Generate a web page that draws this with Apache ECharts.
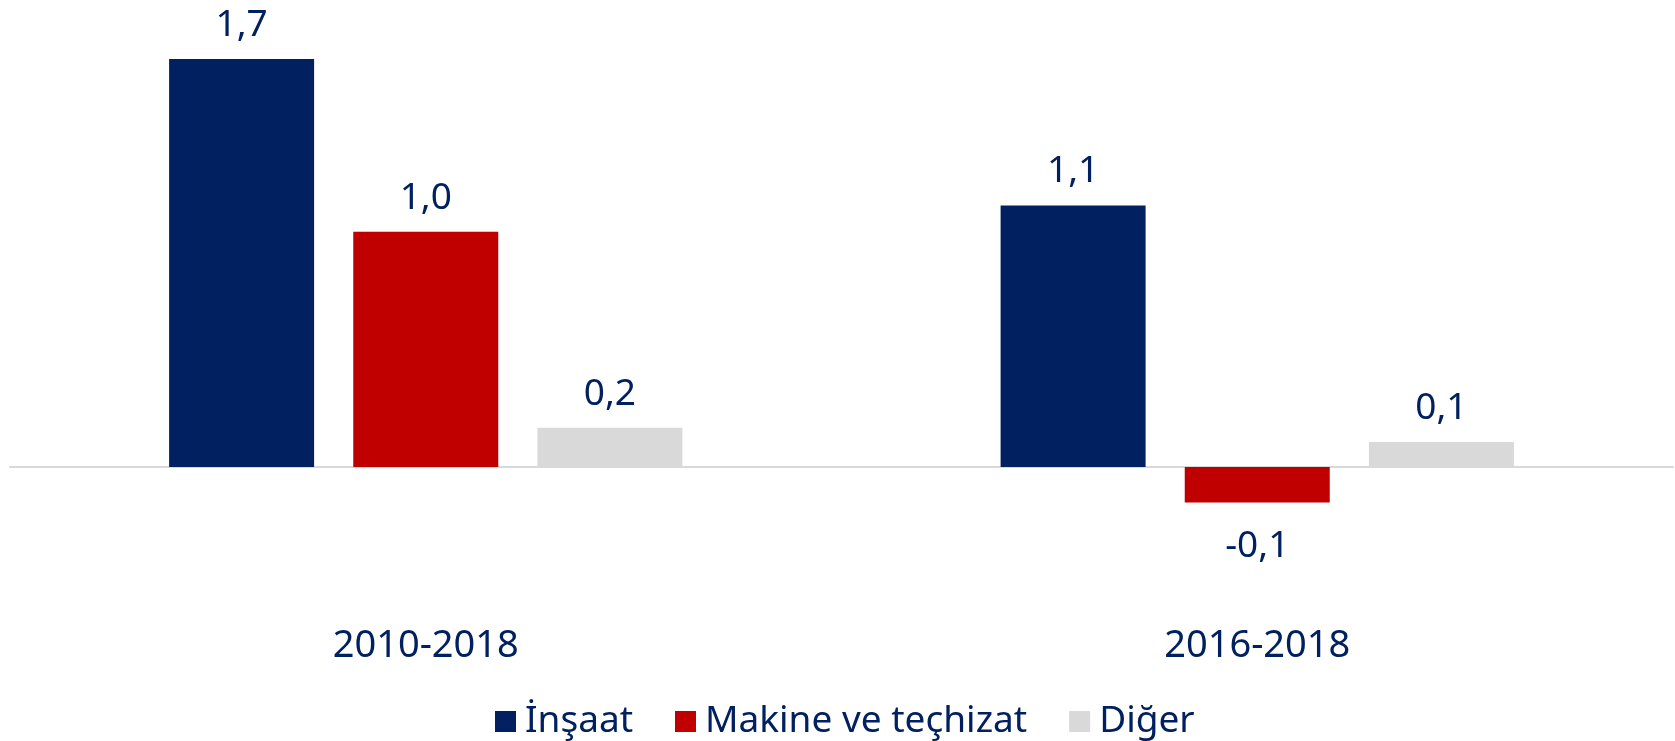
<!DOCTYPE html>
<html>
<head>
<meta charset="utf-8">
<script src="https://cdn.jsdelivr.net/npm/echarts@6/dist/echarts.min.js"></script>
<style>
html,body{margin:0;padding:0;background:#fff;}
#chart1{width:1675px;height:741px;}
</style>
</head>
<body>
<div id="chart1"></div>
<script>
//数据
var periods = ['2010-2018', '2016-2018'];
var seriesNames = ['İnşaat', 'Makine ve teçhizat', 'Diğer'];
var insaat = [1.70, 1.09];
var makine = [0.98, -0.148];
var diger = [0.164, 0.104];

var textColor = '#002060';
var fontName = "'Noto Sans', sans-serif";

function fmt(v){
	return v.toFixed(1).replace('.', ',');
}

function makeData(arr){
	var out = [];
	for (var i = 0; i < arr.length; i++) {
		out.push({
			value: arr[i],
			label: arr[i] < 0 ? { position: 'bottom', distance: 25 } : { position: 'top', distance: 15 }
		});
	}
	return out;
}

(function(){
var chart1 = echarts.init(document.getElementById("chart1"));

var barLabel = {
	show: true,
	color: textColor,
	fontFamily: fontName,
	fontSize: 37,
	formatter: function(p){ return fmt(p.value); }
};

option = {
	animation: false,
	color: ['#002060', '#C00000', '#D9D9D9'],
	legend: {
		data: seriesNames,
		top: 698,
		left: 490,
		itemWidth: 21,
		itemHeight: 21,
		itemGap: 42,
		icon: 'rect',
		textStyle: {
			color: textColor,
			fontFamily: fontName,
			fontSize: 37,
			padding: [0, 0, 0, 4]
		}
	},
	grid: {
		left: 10,
		right: 2,
		top: 35,
		bottom: 178,
		outerBoundsMode: 'none'
	},
	xAxis: [
		{
			// 零线
			type: 'category',
			data: periods,
			axisTick: {show: false},
			axisLabel: {show: false},
			axisLine: {
				onZero: true,
				lineStyle: {color: '#D9D9D9', width: 2}
			}
		},
		{
			// 底部类目标签
			type: 'category',
			data: periods,
			position: 'bottom',
			axisTick: {show: false},
			axisLine: {show: false, onZero: false},
			axisLabel: {
				margin: 64,
				color: textColor,
				fontFamily: fontName,
				fontSize: 38
			}
		}
	],
	yAxis: {
		type: 'value',
		show: false,
		min: -0.4,
		max: 1.8,
		splitLine: {show: false}
	},
	series: [
		{
			name: seriesNames[0],
			type: 'bar',
			barWidth: 145,
			barGap: '27%',
			label: barLabel,
			data: makeData(insaat)
		},
		{
			name: seriesNames[1],
			type: 'bar',
			barWidth: 145,
			barGap: '27%',
			label: barLabel,
			data: makeData(makine)
		},
		{
			name: seriesNames[2],
			type: 'bar',
			barWidth: 145,
			barGap: '27%',
			label: barLabel,
			data: makeData(diger)
		}
	]
};

chart1.setOption(option);
})();
</script>
</body>
</html>
